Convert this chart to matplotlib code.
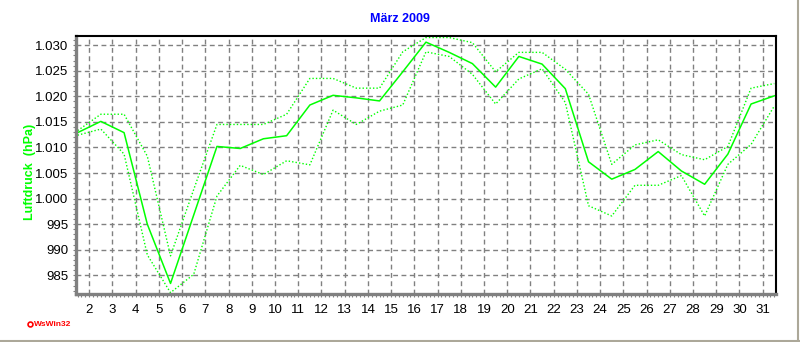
import matplotlib
matplotlib.use("Agg")
import matplotlib.pyplot as plt
from matplotlib.ticker import FuncFormatter, MultipleLocator, FixedLocator
from matplotlib.lines import Line2D

plt.rcParams['font.family'] = ['Liberation Sans', 'DejaVu Sans']

title = "März 2009"
ylabel = "Luftdruck  (hPa)"
days = list(range(1, 32))
mean = [1012.9, 1015.1, 1012.9, 995.0, 983.4, 996.8, 1010.2, 1009.8, 1011.7, 1012.3,
        1018.3, 1020.2, 1019.7, 1019.1, 1024.8, 1030.6, 1028.6, 1026.4, 1021.8, 1027.8,
        1026.3, 1021.5, 1007.2, 1003.8, 1005.7, 1009.2, 1005.4, 1002.8, 1008.7, 1018.5, 1020.1]
pmax = [1013.3, 1016.5, 1016.5, 1008.3, 988.8, 1001.8, 1014.5, 1014.5, 1014.5, 1016.5,
        1023.5, 1023.5, 1021.6, 1021.6, 1028.7, 1031.5, 1031.5, 1030.5, 1024.8, 1028.6,
        1028.6, 1025.3, 1020.4, 1006.7, 1010.5, 1011.5, 1008.6, 1007.6, 1010.2, 1021.6, 1022.5]
pmin = [1012.4, 1013.6, 1008.7, 989.0, 981.6, 985.2, 1000.5, 1006.5, 1004.7, 1007.4,
        1006.6, 1017.3, 1014.5, 1017.1, 1018.3, 1028.7, 1027.8, 1024.3, 1018.5, 1023.4,
        1025.4, 1018.8, 998.6, 996.6, 1002.6, 1002.6, 1004.5, 996.6, 1006.7, 1010.6, 1018.1]
xticks = list(range(2, 32))
yticks = list(range(985, 1031, 5))

x = [d + 0.5 for d in days]

fig = plt.figure(figsize=(8.0, 3.42), dpi=100)
ax = fig.add_axes([76/800, 1 - 294/342, 699.7/800, 258/342])

green = '#00FF00'
ax.plot(x, pmax, color=green, lw=1.0, linestyle=(0, (1, 1.5)))
ax.plot(x, pmin, color=green, lw=1.0, linestyle=(0, (1, 1.5)))
ax.plot(x, mean, color=green, lw=1.1, linestyle='-')

ax.set_xlim(1.43, 31.56)
ax.set_ylim(981.34, 1031.8)

ax.xaxis.set_major_locator(FixedLocator(xticks))
ax.xaxis.set_minor_locator(MultipleLocator(1/6))
ax.yaxis.set_major_locator(FixedLocator(yticks))
ax.yaxis.set_minor_locator(MultipleLocator(1))

def yfmt(v, pos):
    v = int(round(v))
    if v >= 1000:
        return f"{v // 1000}.{v % 1000:03d}"
    return str(v)

ax.yaxis.set_major_formatter(FuncFormatter(yfmt))
ax.xaxis.set_major_formatter(FuncFormatter(lambda v, p: str(int(round(v)))))

ax.grid(True, which='major', color='#808080', linestyle=(0, (3.5, 2.5)), lw=1.0)
ax.set_axisbelow(True)

ax.tick_params(axis='both', which='both', direction='out', length=2.5, width=0.8,
               color='#808080', labelsize=9.5, labelcolor='black')
ax.tick_params(axis='x', which='major', pad=5)
ax.tick_params(axis='y', which='major', pad=3)

for s in ['left', 'bottom']:
    ax.spines[s].set_color('#808080')
    ax.spines[s].set_linewidth(2.4)
for s in ['top', 'right']:
    ax.spines[s].set_color('black')
    ax.spines[s].set_linewidth(1.5)

fig.text(400/800, 1 - 19/342, title, color='#0000FF', fontsize=9, fontweight='bold',
         ha='center', va='center')
fig.text(30/800, 1 - 172/342, ylabel, color=green, fontsize=9, fontweight='bold',
         rotation=90, ha='center', va='center')

fig.add_artist(Line2D([30/800], [1 - 324/342], marker='o', markersize=3.5,
                      markerfacecolor='white', markeredgecolor='red', markeredgewidth=1.2,
                      transform=fig.transFigure))
fig.text(34/800, 1 - 324/342, "WsWin32", color='red', fontsize=6, fontweight='bold',
         ha='left', va='center')

fig.add_artist(Line2D([0, 1], [1 - 341/342, 1 - 341/342], color='#ACA899', lw=1.5,
                      transform=fig.transFigure))
fig.add_artist(Line2D([797.5/800, 797.5/800], [1 - 341/342, 1], color='#ACA899', lw=1.5,
                      transform=fig.transFigure))

fig.savefig('out.png', dpi=100)
